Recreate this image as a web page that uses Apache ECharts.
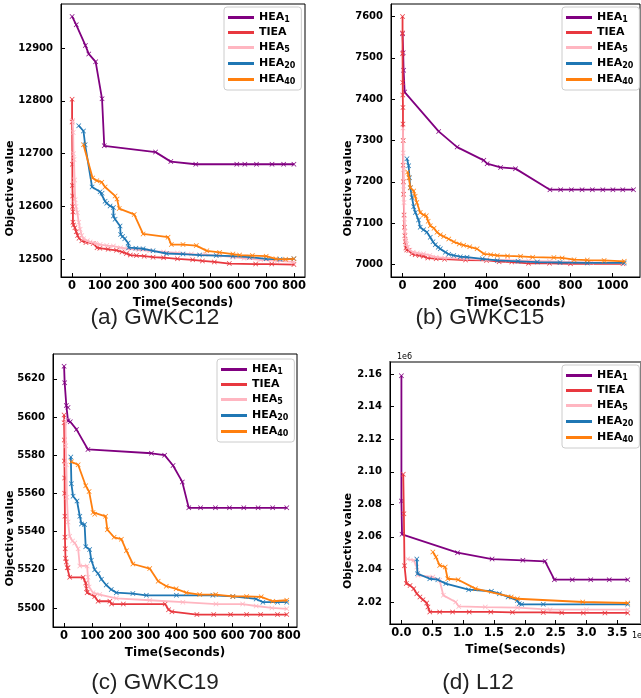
<!DOCTYPE html>
<html><head><meta charset="utf-8">
<script src="https://cdn.jsdelivr.net/npm/echarts@6/dist/echarts.min.js"></script>
<style>html,body{margin:0;padding:0;background:#fff}#c{width:641px;height:698px}</style>
</head><body><div id="c"></div>
<script>
// ---------- DATA ----------
const seriesNames = ['HEA1', 'TIEA', 'HEA5', 'HEA20', 'HEA40'];
const captions = ['(a) GWKC12', '(b) GWKC15', '(c) GWKC19', '(d) L12'];

// Panel (a) GWKC12  [time(s), objective]
const A_HEA1 = [[0,12960],[15,12944],[48,12905],[60,12889],[85,12874],[108,12804],[116,12715],[301,12703],[356,12685],[446,12680],[594,12680],[623,12680],[665,12680],[721,12680],[763,12680],[800,12680]];
const A_TIEA = [[0,12803],[0,12760],[1,12680],[1,12640],[2,12620],[2,12600],[3,12590],[3,12570],[5,12565],[10,12560],[15,12552],[20,12545],[25,12540],[35,12535],[50,12532],[76,12530],[90,12522],[100,12521],[130,12519],[160,12517],[180,12514],[196,12511],[210,12508],[232,12507],[260,12506],[292,12504],[330,12503],[380,12501],[435,12499],[470,12497],[513,12495],[567,12492],[662,12491],[720,12491],[800,12490]];
const A_HEA5 = [[2,12763],[4,12740],[5,12700],[7,12689],[9,12650],[11,12613],[14,12600],[19,12588],[24,12570],[29,12557],[35,12545],[41,12539],[55,12535],[65,12533],[85,12530],[101,12528],[125,12526],[149,12525],[175,12522],[200,12520],[240,12518],[280,12516],[330,12514],[380,12512],[430,12510],[480,12509],[530,12507],[580,12504],[620,12502],[680,12499],[740,12497],[800,12495]];
const A_HEA20 = [[24,12753],[41,12743],[47,12717],[72,12637],[101,12628],[108,12625],[119,12610],[125,12606],[137,12601],[149,12598],[149,12582],[155,12576],[173,12563],[175,12547],[182,12543],[190,12539],[202,12531],[204,12522],[230,12521],[256,12520],[292,12516],[340,12511],[400,12510],[460,12508],[520,12507],[580,12506],[640,12504],[700,12501],[750,12500],[800,12501]];
const A_HEA40 = [[41,12717],[74,12654],[89,12649],[107,12646],[119,12637],[155,12620],[162,12614],[170,12596],[224,12585],[256,12548],[346,12542],[358,12528],[400,12528],[448,12526],[486,12516],[532,12513],[580,12510],[604,12508],[650,12507],[700,12506],[735,12501],[770,12500],[800,12501]];

// Panel (b) GWKC15
const B_HEA1 = [[0,7558],[3,7512],[5,7470],[10,7417],[172,7322],[260,7284],[387,7252],[403,7244],[467,7235],[538,7232],[702,7181],[753,7181],[804,7181],[855,7181],[904,7181],[954,7181],[1002,7181],[1049,7181],[1100,7181]];
const B_TIEA = [[0,7600],[0,7560],[0,7510],[1,7440],[1,7410],[2,7380],[2,7340],[3,7300],[3,7240],[4,7200],[5,7170],[7,7120],[9,7090],[11,7070],[13,7055],[16,7040],[20,7035],[30,7034],[45,7026],[60,7024],[80,7022],[100,7020],[120,7016],[160,7014],[200,7013],[300,7011],[400,7010],[460,7007],[520,7006],[600,7003],[700,7003],[800,7002],[1050,7002]];
const B_HEA5 = [[2,7330],[3,7270],[4,7230],[5,7190],[7,7150],[9,7110],[12,7080],[15,7060],[20,7050],[25,7042],[35,7035],[50,7030],[70,7028],[100,7026],[130,7022],[160,7018],[200,7016],[300,7014],[400,7012],[500,7011],[600,7009],[700,7008],[800,7006],[900,7005],[1050,7004]];
const B_HEA20 = [[21,7256],[29,7239],[33,7210],[37,7186],[45,7162],[53,7140],[61,7126],[76,7108],[84,7090],[100,7084],[116,7078],[132,7066],[145,7055],[156,7048],[170,7042],[180,7038],[204,7030],[220,7025],[244,7022],[275,7019],[307,7018],[380,7014],[451,7010],[550,7008],[642,7006],[750,7005],[880,7004],[1056,7004]];
const B_HEA40 = [[24,7224],[30,7210],[37,7186],[53,7178],[60,7165],[68,7150],[84,7126],[100,7120],[113,7118],[122,7105],[132,7094],[150,7088],[164,7078],[180,7072],[196,7068],[220,7062],[244,7055],[270,7050],[291,7047],[320,7043],[355,7038],[387,7026],[420,7024],[451,7022],[500,7021],[562,7020],[620,7018],[721,7017],[760,7016],[817,7012],[880,7011],[960,7010],[1056,7008]];

// Panel (c) GWKC19
const C_HEA1 = [[0,5626.6],[2,5618],[8,5606],[14,5605],[14,5598],[22,5597.5],[44,5593.5],[85,5583],[311,5581],[358,5580],[388,5574.6],[421,5566],[444,5552.4],[486,5552.4],[539,5552.4],[589,5552.4],[640,5552.4],[691,5552.4],[743,5552.4],[793,5552.4]];
const C_TIEA = [[0,5601],[0,5597],[1,5588],[1,5577],[2,5568],[2,5560],[3,5548],[3,5537],[4,5531],[5,5526],[8,5524],[11,5521],[14,5521],[20,5516],[68,5516],[77,5513],[80,5510],[82,5508],[109,5506],[121,5503.5],[163,5503.5],[169,5502],[211,5502],[360,5502],[372,5499],[384,5498],[473,5496.5],[533,5496.5],[593,5496.5],[650,5496.5],[700,5496.5],[760,5496.5],[793,5496.5]];
const C_HEA5 = [[5,5598],[6,5585],[8,5575],[10,5558],[14,5545],[20,5537.5],[30,5535],[38,5534],[50,5531],[56,5522],[82,5522],[85,5516],[89,5511],[103,5508],[127,5507],[186,5505],[305,5504],[423,5503],[541,5502],[636,5502],[684,5501],[740,5500],[793,5499.5]];
const C_HEA20 = [[24,5579],[26,5565],[32,5558.5],[46,5556],[56,5548],[62,5544],[73,5543.7],[77,5532],[91,5530.6],[97,5525],[109,5520],[121,5518],[133,5515],[150,5512],[168,5509.6],[186,5508],[245,5507.5],[293,5506.6],[400,5506.6],[530,5506.6],[601,5506],[684,5504.7],[708,5503],[760,5503],[793,5503]];
const C_HEA40 = [[26,5576.5],[50,5575],[77,5564],[89,5561],[103,5550],[109,5549],[148,5548],[154,5541],[178,5537],[204,5536],[222,5530],[245,5523],[305,5520.6],[335,5514],[364,5511.4],[399,5510],[435,5508],[483,5507],[540,5507],[601,5506],[650,5506],[702,5505.8],[743,5503.5],[793,5504]];

// Panel (d) L12   [time (x1e3 s), objective (x1e6)]
const D_HEA1 = [[0.0,2.159],[0.0,2.082],[0.01,2.0616],[0.91,2.0503],[1.47,2.0464],[1.97,2.0456],[2.33,2.0450],[2.48,2.0337],[2.77,2.0337],[3.07,2.0337],[3.37,2.0337],[3.67,2.0337]];
const D_TIEA = [[0.03,2.0984],[0.04,2.0742],[0.05,2.0423],[0.08,2.0313],[0.14,2.0302],[0.2,2.0282],[0.25,2.0251],[0.3,2.0231],[0.35,2.0214],[0.41,2.0194],[0.43,2.017],[0.46,2.0139],[0.62,2.0139],[0.83,2.0139],[1.1,2.0139],[1.45,2.0139],[1.8,2.0137],[2.3,2.0136],[2.6,2.0134],[2.95,2.0133],[3.3,2.0133],[3.67,2.0133]];
const D_HEA5 = [[0.1,2.0464],[0.2,2.0456],[0.25,2.0415],[0.27,2.0364],[0.51,2.0354],[0.62,2.0333],[0.68,2.0241],[0.88,2.02],[0.93,2.0173],[1.36,2.0169],[1.88,2.0165],[2.41,2.0153],[3.0,2.0153],[3.67,2.0153]];
const D_HEA20 = [[0.25,2.0464],[0.26,2.0374],[0.46,2.0343],[0.59,2.0337],[0.72,2.0313],[1.09,2.0276],[1.46,2.0266],[1.59,2.0251],[1.73,2.0231],[1.88,2.021],[1.91,2.019],[1.95,2.0186],[2.3,2.0186],[3.67,2.0186]];
const D_HEA40 = [[0.51,2.0507],[0.56,2.0476],[0.62,2.0425],[0.71,2.0415],[0.75,2.0343],[0.92,2.0337],[1.2,2.0282],[1.78,2.0231],[1.88,2.022],[2.94,2.02],[3.67,2.0194]];

// tick labels
const A_XTICKS = [0,100,200,300,400,500,600,700,800];
const A_YTICKS = [12500,12600,12700,12800,12900];
const B_XTICKS = [0,200,400,600,800,1000];
const B_YTICKS = [7000,7100,7200,7300,7400,7500,7600];
const C_XTICKS = [0,100,200,300,400,500,600,700,800];
const C_YTICKS = [5500,5520,5540,5560,5580,5600,5620];
const D_XTICKS = [0.0,0.5,1.0,1.5,2.0,2.5,3.0,3.5];
const D_YTICKS = [2.02,2.04,2.06,2.08,2.10,2.12,2.14,2.16];

// ---------- STYLE / LAYOUT ----------
const colors = ['#800080', '#e8383f', '#ffb6c1', '#1f77b4', '#ff7f0e'];
const XSYM = 'path://M0,1L1,0L5,4L9,0L10,1L6,5L10,9L9,10L5,6L1,10L0,9L4,5Z';
const FONT = 'DejaVu Sans';

const panels = [
  {data:[A_HEA1,A_TIEA,A_HEA5,A_HEA20,A_HEA40], grid:{left:61,top:4,width:244,height:273}, x:[-40,840], y:[12466.5,12983.5], xt:A_XTICKS, yt:A_YTICKS, xf:v=>String(v), yf:v=>String(v), legend:{left:224,top:7}, cap:[155,318], yname:11, border:'#000', bw:1},
  {data:[B_HEA1,B_TIEA,B_HEA5,B_HEA20,B_HEA40], grid:{left:391,top:4,width:249,height:273}, x:[-55,1131], y:[6970,7630], xt:B_XTICKS, yt:B_YTICKS, xf:v=>String(v), yf:v=>String(v), legend:{left:562,top:7}, cap:[480,318], yname:349, border:'#000', bw:1},
  {data:[C_HEA1,C_TIEA,C_HEA5,C_HEA20,C_HEA40], grid:{left:53,top:354,width:244,height:273}, x:[-39.5,829.5], y:[5490,5633], xt:C_XTICKS, yt:C_YTICKS, xf:v=>String(v), yf:v=>String(v), legend:{left:217,top:359}, cap:[155,683], yname:11, border:'#000', bw:1},
  {data:[D_HEA1,D_TIEA,D_HEA5,D_HEA20,D_HEA40], grid:{left:390,top:362,width:257,height:262}, x:[-0.185,3.885], y:[2.0065,2.1674], xt:D_XTICKS, yt:D_YTICKS, xf:v=>v.toFixed(1), yf:v=>v.toFixed(2), legend:{left:562,top:365}, cap:[478,683], yname:349, border:'#808080', bw:2}
];

const option = {animation:false, backgroundColor:'#fff', grid:[], xAxis:[], yAxis:[], series:[], legend:[], graphic:[]};
const xTickLabel = {fontFamily:FONT, fontWeight:'bold', fontSize:11.5, color:'#000'};
const yTickLabel = {fontFamily:FONT, fontWeight:'bold', fontSize:10, color:'#000'};
const nameStyle = {fontFamily:FONT, fontWeight:'bold', fontSize:12, color:'#000'};

panels.forEach((p, i) => {
  option.grid.push(Object.assign({show:true, borderColor:p.border, borderWidth:p.bw, backgroundColor:'transparent'}, p.grid));
  option.xAxis.push({gridIndex:i, type:'value', min:p.x[0], max:p.x[1],
    axisLine:{show:true, onZero:false, lineStyle:{color:'#000', width:1}},
    axisTick:{show:true, inside:true, length:4, customValues:p.xt, lineStyle:{color:'#000'}},
    axisLabel:Object.assign({customValues:p.xt, margin:3, formatter:p.xf, hideOverlap:false, showMinLabel:true, showMaxLabel:true}, xTickLabel),
    splitLine:{show:false},
    name:'Time(Seconds)', nameLocation:'middle', nameGap:20, nameTextStyle:nameStyle});
  option.yAxis.push({gridIndex:i, type:'value', min:p.y[0], max:p.y[1],
    axisLine:{show:true, onZero:false, lineStyle:{color:'#000', width:1}},
    axisTick:{show:true, inside:true, length:4, customValues:p.yt, lineStyle:{color:'#000'}},
    axisLabel:Object.assign({customValues:p.yt, margin:8, formatter:p.yf, hideOverlap:false}, yTickLabel),
    splitLine:{show:false}});
  option.graphic.push({type:'text', left:p.yname - 6, top:p.grid.top + p.grid.height/2, rotation:Math.PI/2,
    style:{text:'Objective value', font:'bold 11px "DejaVu Sans"', fill:'#000', textAlign:'center', textVerticalAlign:'middle'}});
  option.graphic.push({type:'text', x:p.cap[0], y:p.cap[1],
    style:{text:captions[i], font:'22.5px "Liberation Sans"', fill:'#222', textAlign:'center', textVerticalAlign:'middle'}});
  p.data.forEach((d, k) => {
    option.series.push({type:'line', name:seriesNames[k], xAxisIndex:i, yAxisIndex:i, data:d,
      symbol:XSYM, symbolSize:5, showSymbol:true, color:colors[k],
      lineStyle:{width:1.8, color:colors[k]}, itemStyle:{color:colors[k]}, z:2+k});
  });
  option.legend.push({left:p.legend.left, top:p.legend.top, orient:'vertical', itemGap:3, itemWidth:26, itemHeight:3,
    icon:'rect', padding:[4,6,4,4], backgroundColor:'rgba(255,255,255,0.85)', borderColor:'#ccc', borderWidth:1, borderRadius:3,
    data:seriesNames, selectedMode:false,
    formatter: n => n.startsWith('HEA') ? '{m|HEA}{s|' + n.slice(3) + '}' : '{m|' + n + '}',
    textStyle:{rich:{m:{fontFamily:FONT, fontWeight:'bold', fontSize:11, color:'#000', lineHeight:14}, s:{fontFamily:FONT, fontWeight:'bold', fontSize:8, color:'#000', padding:[5,0,0,0], lineHeight:14}}}});
});
option.graphic.push({type:'text', x:397, y:357, style:{text:'1e6', font:'8px "DejaVu Sans"', fill:'#000', textAlign:'left', textVerticalAlign:'middle'}});
option.graphic.push({type:'text', x:632, y:636, style:{text:'1e3', font:'8px "DejaVu Sans"', fill:'#000', textAlign:'left', textVerticalAlign:'middle'}});

const chart = echarts.init(document.getElementById('c'), null, {renderer:'canvas'});
chart.setOption(option);
</script></body></html>
